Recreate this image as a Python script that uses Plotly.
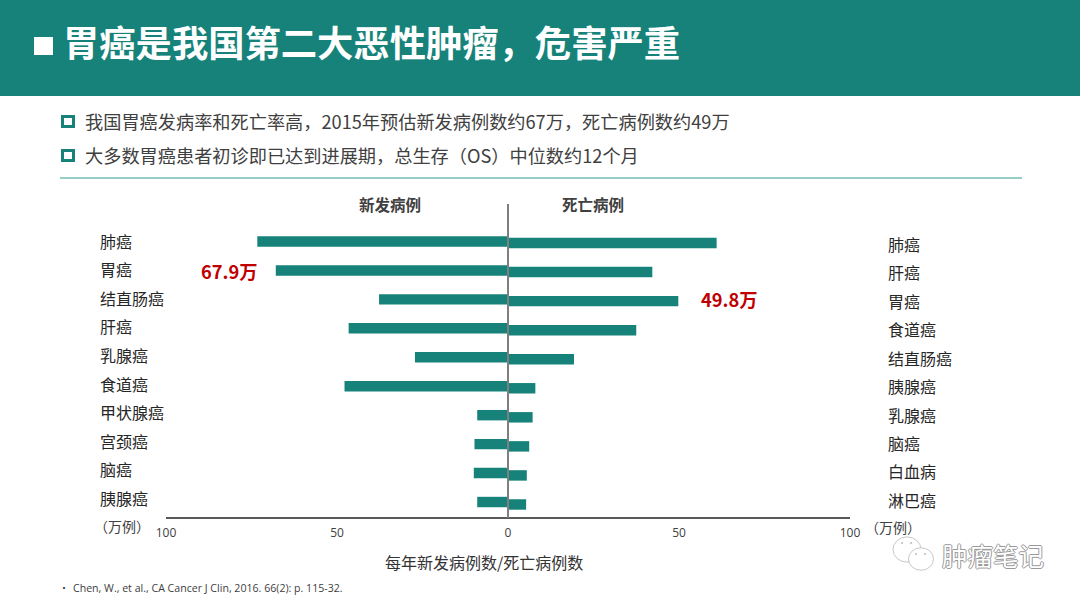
import plotly.graph_objects as go

W, H = 1080, 602
TEAL = "#17827A"
CJK = "Noto Sans CJK SC"
LATIN = "Open Sans"

# Data
new_categories = ["肺癌", "胃癌", "结直肠癌", "肝癌", "乳腺癌", "食道癌", "甲状腺癌", "宫颈癌", "脑癌", "胰腺癌"]
new_cases = [73.3, 67.9, 37.7, 46.6, 27.2, 47.8, 9.0, 9.8, 10.0, 9.0]
death_categories = ["肺癌", "肝癌", "胃癌", "食道癌", "结直肠癌", "胰腺癌", "乳腺癌", "脑癌", "白血病", "淋巴癌"]
death_cases = [61.0, 42.2, 49.8, 37.5, 19.3, 8.0, 7.2, 6.2, 5.5, 5.3]
tick_values = [-100, -50, 0, 50, 100]
tick_labels = ["100", "50", "0", "50", "100"]
title_text = "胃癌是我国第二大恶性肿瘤，危害严重"
bullets = ["我国胃癌发病率和死亡率高，2015年预估新发病例数约67万，死亡病例数约49万",
           "大多数胃癌患者初诊即已达到进展期，总生存（OS）中位数约12个月"]
footnote = "Chen, W., et al., CA Cancer J Clin, 2016. 66(2): p. 115-32."


def px(x):
    return x / W


def py(y):
    return 1 - y / H


fig = go.Figure()
fig.add_bar(y=list(range(10)), x=[-v for v in new_cases], orientation="h", width=0.36,
            marker=dict(color=TEAL, line_width=0), xaxis="x", yaxis="y",
            customdata=new_categories, hovertemplate="%{customdata}<extra></extra>")
fig.add_bar(y=list(range(10)), x=death_cases, orientation="h", width=0.36,
            marker=dict(color=TEAL, line_width=0), xaxis="x", yaxis="y2",
            customdata=death_categories, hovertemplate="%{customdata}<extra></extra>")

shapes = []
ann = []


def rect(x0, y0, x1, y1, fill, line=None, lw=0):
    shapes.append(dict(type="rect", xref="paper", yref="paper", x0=px(x0), x1=px(x1), y0=py(y0), y1=py(y1),
                       fillcolor=fill, line=dict(color=line or fill, width=lw), layer="below"))


def text(x, y, s, size, color="#3A3A3A", anchor="left", bold=False, family=CJK):
    t = f"<b>{s}</b>" if bold else s
    ann.append(dict(x=px(x), y=py(y), xref="paper", yref="paper", text=t, showarrow=False, xanchor=anchor,
                    yanchor="middle", borderpad=0, font=dict(size=size, color=color, family=family)))


# Header
rect(0, 0, W, 96, TEAL)
rect(34, 37, 53, 55, "white")
text(61.5, 41, title_text, 36.3, "white", bold=True)

# Bullets
rect(62.5, 116.5, 73.5, 126.5, "white", TEAL, 3)
rect(62.5, 150.5, 73.5, 160.5, "white", TEAL, 3)
text(84, 120.5, bullets[0], 18.2, "#404040")
text(84, 154.5, bullets[1], 18.2, "#404040")
shapes.append(dict(type="line", xref="paper", yref="paper", x0=px(60), x1=px(1022), y0=py(178), y1=py(178),
                   line=dict(color="#2E9E90", width=1)))

# Chart headings and notes
text(390, 204, "新发病例", 15.5, "#404040", "center", bold=True)
text(592.5, 204, "死亡病例", 15.5, "#404040", "center", bold=True)
text(93, 526, "（万例）", 14, "#404040")
text(864, 527, "（万例）", 14, "#404040")
text(483.5, 562, "每年新发病例数/死亡病例数", 16, "#333333", "center")
text(58, 587, "•", 10, "#333333")
text(72, 588, footnote, 10.6, "#404040", family=LATIN)
text(200, 271, "67.9万", 18.3, "#C00000", bold=True)
text(700, 299, "49.8万", 18.3, "#C00000", bold=True)

# Category labels: the reference spaces them slightly tighter than the bars
for i, c in enumerate(new_categories):
    text(99, 240.8 + i * 28.55, c, 16, "#262626")
for i, c in enumerate(death_categories):
    text(887, 243.8 + i * 28.45, c, 16, "#262626")

# Central divider
shapes.append(dict(type="line", xref="x", yref="paper", x0=0, x1=0, y0=py(204), y1=py(518),
                   line=dict(color="#7F7F7F", width=2), layer="above"))

# Watermark
for cx, cy, r in [(907, 549.5, 14), (921, 559, 12.5)]:
    shapes.append(dict(type="circle", xref="paper", yref="paper", x0=px(cx - r), x1=px(cx + r),
                       y0=py(cy - r * 0.9), y1=py(cy + r * 0.9), fillcolor="white",
                       line=dict(color="#C8C8C8", width=1), layer="above"))
for cx, cy in [(902, 543), (911, 543), (916, 554), (925, 554)]:
    shapes.append(dict(type="circle", xref="paper", yref="paper", x0=px(cx - 1), x1=px(cx + 1),
                       y0=py(cy - 1), y1=py(cy + 1), fillcolor="#BBBBBB", line_width=0, layer="above"))
text(941, 554, "肿瘤笔记", 25.5, "white")
ann[-1]["font"]["shadow"] = "1px 0 0 #999, -1px 0 0 #999, 0 1px 0 #999, 0 -1px 0 #999"

fig.update_layout(
    width=W, height=H, margin=dict(l=0, r=0, t=0, b=0, autoexpand=False), autosize=False,
    paper_bgcolor="white", plot_bgcolor="rgba(0,0,0,0)", showlegend=False, barmode="overlay",
    font=dict(family=LATIN),
    shapes=shapes, annotations=ann,
    xaxis=dict(domain=[px(166), px(850)], range=[-100, 100], tickvals=tick_values, ticktext=tick_labels,
               showgrid=False, zeroline=False, showline=True, linecolor="#595959", linewidth=1.5,
               ticks="", ticklabelstandoff=4, tickfont=dict(size=12, color="#404040", family=LATIN),
               anchor="y", fixedrange=True, automargin=False),
    yaxis=dict(domain=[py(516.5), py(227)], range=[9.5, -0.5], visible=False, fixedrange=True),
    yaxis2=dict(domain=[py(519), py(228.5)], range=[9.5, -0.5], visible=False, fixedrange=True, anchor="x"),
)

fig.write_html("out.html", config={"displayModeBar": False},
               post_script="document.body.style.margin='0';document.body.style.overflow='hidden';")
